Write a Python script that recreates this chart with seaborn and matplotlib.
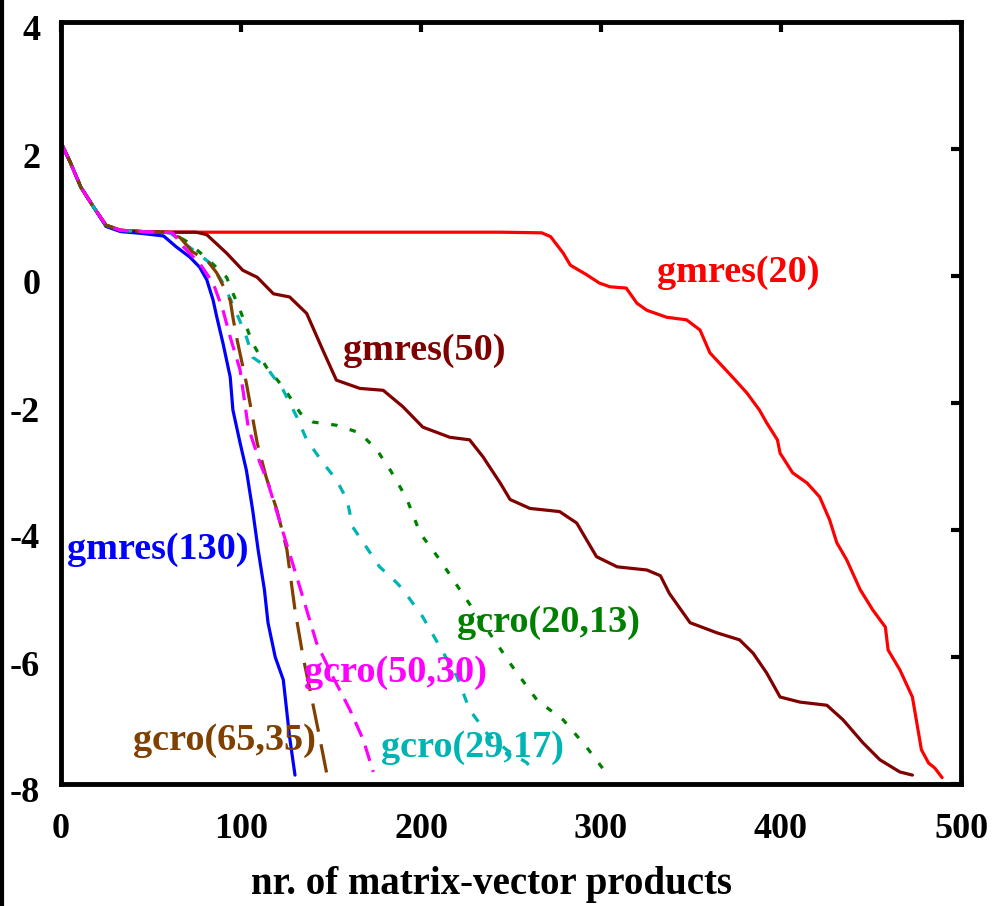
import numpy as np
import pandas as pd
import matplotlib
matplotlib.use("Agg")
import matplotlib.pyplot as plt
import matplotlib.transforms as mtransforms
from matplotlib.lines import Line2D
import seaborn as sns

# ---------------- data ----------------
common_x = [0, 5, 11, 18, 25, 33, 45]
common_y = [2.1, 1.8, 1.4, 1.09, 0.8, 0.72, 0.70]

gmres20_x = common_x + [60, 150, 244, 267, 272, 279, 283, 292, 299, 305, 314, 320, 325.5,
                        336.5, 347.5, 355, 360.5, 373, 381, 388, 392, 398, 399.5, 406.5,
                        414.5, 421.5, 427, 431, 436.5, 444, 451, 458, 459.5, 466, 473, 478,
                        482, 485.5, 489.5]
gmres20_y = common_y + [0.69, 0.69, 0.69, 0.68, 0.62, 0.36, 0.17, 0.02, -0.11, -0.17, -0.19,
                        -0.43, -0.54, -0.65, -0.69, -0.85, -1.21, -1.59, -1.84, -2.11, -2.31,
                        -2.58, -2.79, -3.10, -3.26, -3.48, -3.84, -4.2, -4.47, -4.94, -5.26,
                        -5.53, -5.89, -6.2, -6.63, -7.46, -7.67, -7.75, -7.9]

gmres50_x = common_x + [60, 75, 81, 92, 101, 109, 118, 127, 136.5, 145.5, 153, 166, 179, 190,
                        201, 216, 227, 234.5, 244, 249.5, 260.5, 277, 286.5, 297.5, 309, 325.5,
                        333, 338, 349.5, 364.5, 377, 384.5, 392, 399.5, 410.5, 425.5, 434.5,
                        445.5, 455, 466, 473]
gmres50_y = common_y + [0.69, 0.69, 0.65, 0.36, 0.09, -0.02, -0.28, -0.33, -0.59, -1.17, -1.64,
                        -1.77, -1.80, -2.06, -2.38, -2.54, -2.58, -2.85, -3.26, -3.52, -3.66,
                        -3.71, -3.89, -4.42, -4.58, -4.63, -4.72, -5.0, -5.46, -5.62, -5.73,
                        -5.94, -6.25, -6.63, -6.71, -6.76, -6.99, -7.35, -7.62, -7.81, -7.86]

gmres130_x = [0, 5, 11, 18, 25, 33, 45, 57, 64, 71.5, 77, 81, 84.5, 86.5, 90, 94, 95.5, 99.5,
              103, 106.5, 109.5, 113, 115, 119, 123.5, 127, 130]
gmres130_y = [2.1, 1.8, 1.4, 1.09, 0.78, 0.70, 0.67, 0.63, 0.46, 0.30, 0.14, -0.06, -0.38,
              -0.64, -1.06, -1.59, -2.11, -2.63, -3.06, -3.69, -4.31, -4.94, -5.46, -6.0,
              -6.36, -7.26, -7.86]

gcro65_x = common_x + [55, 66, 73, 81, 86.5, 94, 95.5, 97.5, 103, 109, 114, 120, 125.5, 130,
                       134.5, 139.5, 144, 148]
gcro65_y = common_y + [0.69, 0.61, 0.38, 0.25, 0.05, -0.38, -0.65, -0.96, -1.69, -2.63, -3.17,
                       -3.69, -4.31, -5.26, -6.0, -6.68, -7.31, -7.89]

gcro50_x = common_x + [55, 62, 68, 77, 84.5, 90, 94, 99.5, 104, 110.5, 115, 123.5, 131, 136.5,
                       142, 151, 160.5, 168, 173.5]
gcro50_y = common_y + [0.69, 0.68, 0.46, 0.2, -0.11, -0.54, -0.96, -1.48, -2.38, -2.94, -3.26,
                       -4.05, -4.74, -5.26, -5.78, -6.31, -6.83, -7.31, -7.81]

gcro29_x = common_x + [55, 60.5, 73, 83, 90, 97.5, 103, 106.5, 114, 123.5, 131, 136.5, 145.5,
                       153, 159, 162, 168, 177, 186.5, 190, 201, 210.5, 220, 227, 236.5, 247.5,
                       259, 263]
gcro29_y = common_y + [0.69, 0.68, 0.42, 0.2, -0.11, -0.58, -0.96, -1.28, -1.43, -1.80, -2.22,
                       -2.58, -2.94, -3.21, -3.53, -3.95, -4.2, -4.58, -4.83, -4.94, -5.37,
                       -5.84, -6.31, -6.83, -7.2, -7.46, -7.67, -7.86]

gcro20_x = common_x + [55, 62, 70, 81, 92, 95.5, 99.5, 103, 106.5, 114, 123.5, 133, 140, 153,
                       166, 175.5, 183, 192, 199.5, 210.5, 223, 238, 251, 264.5, 279, 292, 303]
gcro20_y = common_y + [0.69, 0.68, 0.54, 0.28, -0.02, -0.27, -0.54, -0.80, -1.06, -1.43, -1.75,
                       -2.16, -2.30, -2.35, -2.47, -2.74, -3.06, -3.5, -4.05, -4.47, -5.0,
                       -5.62, -6.16, -6.68, -6.99, -7.42, -7.83]

labels = ["gmres(20)", "gmres(50)", "gmres(130)", "gcro(65,35)", "gcro(50,30)",
          "gcro(29,17)", "gcro(20,13)"]
label_x = [376, 202, 54, 91, 186, 228.6, 271]
label_y = [0.06, -1.17, -4.31, -7.31, -6.24, -7.43, -5.45]

x_ticks = [0, 100, 200, 300, 400, 500]
y_ticks = [-8, -6, -4, -2, 0, 2, 4]
x_label = "nr. of matrix-vector products"

# ---------------- styling ----------------
series = [
    (gmres20_x, gmres20_y, "#ff0000", None),
    (gmres50_x, gmres50_y, "#800000", None),
    (gmres130_x, gmres130_y, "#0000ff", None),
    (gcro20_x, gcro20_y, "#008000", (2, 4)),
    (gcro29_x, gcro29_y, "#00b4b4", (3, 4)),
    (gcro65_x, gcro65_y, "#804000", (9, 4)),
    (gcro50_x, gcro50_y, "#ff00ff", (5, 3)),
]
label_colors = ["#ff0000", "#800000", "#0000ff", "#804000", "#ff00ff", "#00b4b4", "#008000"]

sns.set_style("white")
plt.rcParams["font.family"] = ["Liberation Serif", "DejaVu Serif"]
plt.rcParams["font.weight"] = "bold"
plt.rcParams["text.color"] = "black"
plt.rcParams["axes.labelcolor"] = "black"
plt.rcParams["xtick.color"] = "black"
plt.rcParams["ytick.color"] = "black"

fig = plt.figure(figsize=(9.93, 9.06), dpi=100)
ax = fig.add_axes([61 / 993, 1 - 784 / 906, 900 / 993, 762 / 906])

for xs, ys, col, dash in series:
    df = pd.DataFrame({"x": xs, "y": ys})
    sns.lineplot(data=df, x="x", y="y", ax=ax, color=col, linewidth=2.3,
                 estimator=None, sort=False)
    if dash is not None:
        ax.lines[-1].set_dashes(dash)

for t, lx, ly, c in zip(labels, label_x, label_y, label_colors):
    ax.text(lx, ly, t, color=c, fontsize=27.5, fontweight="bold",
            ha="center", va="center")

ax.set_xlim(0, 500)
ax.set_ylim(-8, 4)
ax.set_xticks(x_ticks)
ax.set_yticks(y_ticks)
ax.set_xticklabels([str(v) for v in x_ticks], fontsize=26, fontweight="bold", color="black")
ax.set_yticklabels([str(v) for v in y_ticks], fontsize=26, fontweight="bold", color="black")
ax.tick_params(direction="in", length=7, width=3, top=True, right=True, pad=15,
               colors="black")
ax.tick_params(axis="x", pad=21)
for s in ax.spines.values():
    s.set_linewidth(3.5)
    s.set_color("black")
ax.set_ylabel("")
ax.set_xlabel(x_label, fontsize=28, fontweight="bold", color="black")
ax.xaxis.set_label_coords(0.478, -0.108)

# reference y tick labels sit a few pixels below their ticks
shift = mtransforms.ScaledTranslation(0, -6 / 100, fig.dpi_scale_trans)
for lbl in ax.get_yticklabels():
    lbl.set_transform(lbl.get_transform() + shift)

fig.add_artist(Line2D([0.002, 0.002], [0, 1], transform=fig.transFigure,
                      color="black", linewidth=3))

fig.savefig("out.png", dpi=100)
